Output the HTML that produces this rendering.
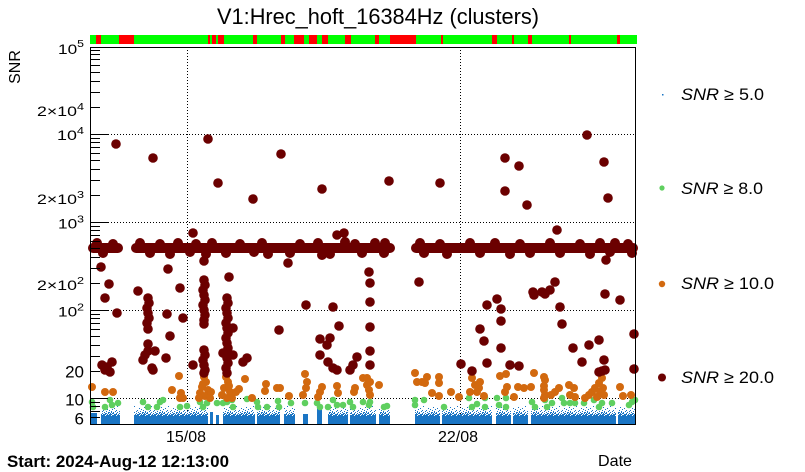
<!DOCTYPE html>
<html><head><meta charset="utf-8"><style>
html,body{margin:0;padding:0;background:#fff;}
svg{display:block;font-family:"Liberation Sans",Arial,Helvetica,sans-serif;}
</style></head><body>
<svg width="805" height="472" viewBox="0 0 805 472" xmlns="http://www.w3.org/2000/svg">
<defs>
<pattern id="bn" patternUnits="userSpaceOnUse" x="0" y="406" width="17" height="10">
<g fill="#1a75c4">
<rect x="0" y="9" width="3" height="1"/><rect x="4" y="9" width="5" height="1"/><rect x="10" y="9" width="4" height="1"/><rect x="15" y="9" width="2" height="1"/>
<rect x="1" y="8" width="3" height="1"/><rect x="5" y="8" width="1" height="1"/><rect x="7" y="8" width="3" height="1"/><rect x="12" y="8" width="3" height="1"/><rect x="16" y="8" width="1" height="1"/>
<rect x="0" y="7" width="1" height="1"/><rect x="3" y="7" width="2" height="1"/><rect x="8" y="7" width="1" height="1"/><rect x="10" y="7" width="2" height="1"/><rect x="14" y="7" width="1" height="1"/><rect x="6" y="7" width="1" height="1"/>
<rect x="2" y="6" width="1" height="1"/><rect x="6" y="6" width="2" height="1"/><rect x="11" y="6" width="1" height="1"/><rect x="15" y="6" width="1" height="1"/><rect x="9" y="6" width="1" height="1"/>
<rect x="4" y="5" width="1" height="1"/><rect x="9" y="5" width="1" height="1"/><rect x="13" y="5" width="1" height="1"/><rect x="0" y="5" width="1" height="1"/>
<rect x="1" y="4" width="1" height="1"/><rect x="7" y="4" width="1" height="1"/><rect x="14" y="4" width="1" height="1"/>
<rect x="5" y="3" width="1" height="1"/><rect x="10" y="3" width="1" height="1"/>
<rect x="3" y="2" width="1" height="1"/><rect x="12" y="2" width="1" height="1"/>
<rect x="8" y="1" width="1" height="1"/><rect x="15" y="0" width="1" height="1"/>
</g>
</pattern>
</defs>

<!-- Title -->
<text x="378" y="24" font-size="22" text-anchor="middle" textLength="322" lengthAdjust="spacingAndGlyphs" fill="#000">V1:Hrec_hoft_16384Hz (clusters)</text>

<!-- status bar -->
<rect x="90" y="35" width="547" height="9" fill="#00ff00"/>
<g fill="#ff0000">
<rect x="96" y="35" width="5" height="9"/><rect x="119" y="35" width="15" height="9"/>
<rect x="208" y="35" width="2" height="9"/><rect x="212" y="35" width="4" height="9"/><rect x="218" y="35" width="6" height="9"/>
<rect x="253" y="35" width="4" height="9"/><rect x="281" y="35" width="4" height="9"/><rect x="294" y="35" width="10" height="9"/>
<rect x="309" y="35" width="8" height="9"/><rect x="322" y="35" width="6" height="9"/><rect x="345" y="35" width="6" height="9"/>
<rect x="375" y="35" width="4" height="9"/><rect x="390" y="35" width="26" height="9"/><rect x="441" y="35" width="2" height="9"/>
<rect x="492" y="35" width="5" height="9"/><rect x="512" y="35" width="2" height="9"/><rect x="528" y="35" width="4" height="9"/>
<rect x="569" y="35" width="2" height="9"/><rect x="617" y="35" width="3" height="9"/>
</g>

<!-- grid -->
<g stroke="#000" stroke-width="1" stroke-dasharray="1,2" fill="none" shape-rendering="crispEdges">
<path d="M108,134.5H635 M108,222.5H635 M108,310.5H635 M108,398.5H635"/>
<path d="M187.5,47V424 M460.5,47V424"/>
</g>

<!-- blue SNR>=5 -->
<g fill="#1a75c4" shape-rendering="crispEdges">
<rect x="90" y="413" width="7" height="11"/>
<rect x="101" y="416" width="19" height="8"/>
<rect x="134" y="416" width="74" height="8"/>
<rect x="210" y="412" width="3" height="12"/>
<rect x="216" y="415" width="3" height="9"/>
<rect x="223" y="416" width="32" height="8"/>
<rect x="257" y="416" width="23" height="8"/>
<rect x="284" y="416" width="11" height="8"/>
<rect x="303" y="414" width="5" height="10"/>
<rect x="317" y="408" width="5" height="16"/>
<rect x="328" y="416" width="20" height="8"/>
<rect x="350" y="416" width="26" height="8"/>
<rect x="379" y="416" width="11" height="8"/>
<rect x="415" y="416" width="25" height="8"/>
<rect x="442" y="416" width="50" height="8"/>
<rect x="496" y="416" width="15" height="8"/>
<rect x="513" y="416" width="15" height="8"/>
<rect x="531" y="416" width="85" height="8"/>
<rect x="618" y="416" width="18" height="8"/>
</g>
<g fill="url(#bn)">
<rect x="101" y="406" width="19" height="10"/>
<rect x="134" y="406" width="74" height="10"/>
<rect x="223" y="406" width="32" height="10"/>
<rect x="257" y="406" width="23" height="10"/>
<rect x="284" y="406" width="11" height="10"/>
<rect x="328" y="406" width="20" height="10"/>
<rect x="350" y="406" width="26" height="10"/>
<rect x="379" y="406" width="11" height="10"/>
<rect x="415" y="406" width="25" height="10"/>
<rect x="442" y="406" width="50" height="10"/>
<rect x="496" y="406" width="15" height="10"/>
<rect x="513" y="406" width="15" height="10"/>
<rect x="531" y="406" width="85" height="10"/>
<rect x="618" y="406" width="18" height="10"/>
</g>

<!-- green SNR>=8 -->
<g fill="#5fcf5f">
<circle cx="92" cy="402" r="3.3"/><circle cx="93" cy="407" r="3.3"/><circle cx="105" cy="407" r="3.3"/><circle cx="110" cy="400" r="3.3"/><circle cx="112" cy="405" r="3.3"/><circle cx="118" cy="403" r="3.3"/>
<circle cx="143" cy="402" r="3.3"/><circle cx="148" cy="407" r="3.3"/><circle cx="157" cy="407" r="3.3"/><circle cx="160" cy="402" r="3.3"/><circle cx="163" cy="400" r="3.3"/>
<circle cx="180" cy="407" r="3.3"/><circle cx="187" cy="406" r="3.3"/><circle cx="200" cy="402" r="3.3"/><circle cx="203" cy="407" r="3.3"/><circle cx="207" cy="403" r="3.3"/>
<circle cx="217" cy="403" r="3.3"/><circle cx="223" cy="403" r="3.3"/><circle cx="227" cy="402" r="3.3"/><circle cx="232" cy="400" r="3.3"/><circle cx="233" cy="407" r="3.3"/>
<circle cx="247" cy="399" r="3.3"/><circle cx="257" cy="402" r="3.3"/><circle cx="258" cy="407" r="3.3"/><circle cx="267" cy="407" r="3.3"/><circle cx="278" cy="401" r="3.3"/><circle cx="279" cy="407" r="3.3"/>
<circle cx="291" cy="403" r="3.3"/><circle cx="305" cy="403" r="3.3"/><circle cx="317" cy="403" r="3.3"/><circle cx="320" cy="407" r="3.3"/><circle cx="328" cy="407" r="3.3"/>
<circle cx="333" cy="400" r="3.3"/><circle cx="337" cy="405" r="3.3"/><circle cx="343" cy="405" r="3.3"/><circle cx="350" cy="402" r="3.3"/><circle cx="353" cy="407" r="3.3"/><circle cx="363" cy="402" r="3.3"/>
<circle cx="369" cy="405" r="3.3"/><circle cx="370" cy="402" r="3.3"/><circle cx="384" cy="407" r="3.3"/><circle cx="387" cy="406" r="3.3"/>
<circle cx="415" cy="400" r="3.3"/><circle cx="415" cy="405" r="3.3"/><circle cx="424" cy="400" r="3.3"/><circle cx="444" cy="407" r="3.3"/>
<circle cx="469" cy="398" r="3.3"/><circle cx="472" cy="407" r="3.3"/><circle cx="477" cy="404" r="3.3"/><circle cx="485" cy="398" r="3.3"/><circle cx="485" cy="407" r="3.3"/>
<circle cx="497" cy="398" r="3.3"/><circle cx="499" cy="405" r="3.3"/><circle cx="506" cy="398" r="3.3"/><circle cx="506" cy="407" r="3.3"/>
<circle cx="532" cy="402" r="3.3"/><circle cx="535" cy="407" r="3.3"/><circle cx="545" cy="400" r="3.3"/><circle cx="547" cy="407" r="3.3"/><circle cx="552" cy="403" r="3.3"/>
<circle cx="562" cy="398" r="3.3"/><circle cx="564" cy="403" r="3.3"/><circle cx="570" cy="403" r="3.3"/><circle cx="575" cy="403" r="3.3"/><circle cx="584" cy="403" r="3.3"/>
<circle cx="594" cy="400" r="3.3"/><circle cx="599" cy="407" r="3.3"/><circle cx="602" cy="403" r="3.3"/><circle cx="612" cy="403" r="3.3"/>
<circle cx="629" cy="405" r="3.3"/><circle cx="632" cy="402" r="3.3"/><circle cx="635" cy="400" r="3.3"/>
</g>

<!-- orange SNR>=10 -->
<g fill="#d2690f">
<circle cx="92" cy="387" r="4"/><circle cx="105" cy="392" r="4"/><circle cx="113" cy="392" r="4"/>
<circle cx="179" cy="376" r="4"/><circle cx="172" cy="390" r="4"/><circle cx="181" cy="393" r="4"/><circle cx="183" cy="398" r="4"/><circle cx="180" cy="398" r="4"/>
<circle cx="239" cy="389" r="4"/><circle cx="245" cy="379" r="4"/><circle cx="252" cy="398" r="4"/><circle cx="266" cy="384" r="4"/><circle cx="265" cy="391" r="4"/>
<circle cx="277" cy="388" r="4"/><circle cx="280" cy="388" r="4"/><circle cx="289" cy="396" r="4"/>
<circle cx="305" cy="374" r="4"/><circle cx="307" cy="382" r="4"/><circle cx="306" cy="388" r="4"/><circle cx="303" cy="395" r="4"/>
<circle cx="320" cy="392" r="4"/><circle cx="322" cy="387" r="4"/><circle cx="318" cy="397" r="4"/><circle cx="337" cy="386" r="4"/><circle cx="338" cy="393" r="4"/>
<circle cx="355" cy="388" r="4"/><circle cx="354" cy="392" r="4"/><circle cx="363" cy="378" r="4"/>
<circle cx="204" cy="377" r="4"/><circle cx="206" cy="382" r="4"/><circle cx="202" cy="387" r="4"/><circle cx="208" cy="390" r="4"/><circle cx="200" cy="393" r="4"/>
<circle cx="205" cy="396" r="4"/><circle cx="211" cy="392" r="4"/><circle cx="199" cy="398" r="4"/><circle cx="210" cy="398" r="4"/><circle cx="203" cy="384" r="4"/>
<circle cx="226" cy="377" r="4"/><circle cx="228" cy="382" r="4"/><circle cx="224" cy="388" r="4"/><circle cx="230" cy="392" r="4"/><circle cx="222" cy="395" r="4"/>
<circle cx="232" cy="398" r="4"/><circle cx="227" cy="398" r="4"/><circle cx="236" cy="392" r="4"/><circle cx="229" cy="386" r="4"/>
<circle cx="367" cy="378" r="4"/><circle cx="370" cy="382" r="4"/><circle cx="369" cy="390" r="4"/><circle cx="370" cy="395" r="4"/><circle cx="367" cy="385" r="4"/><circle cx="379" cy="385" r="4"/>
<circle cx="415" cy="373" r="4"/><circle cx="417" cy="382" r="4"/><circle cx="422" cy="382" r="4"/><circle cx="425" cy="383" r="4"/><circle cx="427" cy="377" r="4"/>
<circle cx="439" cy="377" r="4"/><circle cx="439" cy="383" r="4"/><circle cx="432" cy="393" r="4"/><circle cx="439" cy="396" r="4"/><circle cx="451" cy="392" r="4"/><circle cx="459" cy="397" r="4"/>
<circle cx="472" cy="378" r="4"/><circle cx="475" cy="385" r="4"/><circle cx="479" cy="388" r="4"/><circle cx="480" cy="382" r="4"/><circle cx="470" cy="392" r="4"/><circle cx="477" cy="392" r="4"/><circle cx="484" cy="396" r="4"/>
<circle cx="500" cy="376" r="4"/><circle cx="506" cy="374" r="4"/><circle cx="507" cy="387" r="4"/><circle cx="505" cy="392" r="4"/><circle cx="514" cy="397" r="4"/>
<circle cx="518" cy="387" r="4"/><circle cx="524" cy="388" r="4"/><circle cx="531" cy="387" r="4"/><circle cx="534" cy="373" r="4"/>
<circle cx="544" cy="377" r="4"/><circle cx="545" cy="380" r="4"/><circle cx="544" cy="386" r="4"/><circle cx="544" cy="390" r="4"/><circle cx="545" cy="395" r="4"/><circle cx="544" cy="398" r="4"/>
<circle cx="555" cy="392" r="4"/><circle cx="559" cy="388" r="4"/><circle cx="551" cy="395" r="4"/>
<circle cx="569" cy="385" r="4"/><circle cx="574" cy="388" r="4"/><circle cx="570" cy="395" r="4"/><circle cx="575" cy="397" r="4"/>
<circle cx="585" cy="398" r="4"/><circle cx="589" cy="395" r="4"/><circle cx="592" cy="392" r="4"/><circle cx="595" cy="388" r="4"/>
<circle cx="600" cy="373" r="4"/><circle cx="602" cy="378" r="4"/><circle cx="599" cy="383" r="4"/><circle cx="603" cy="388" r="4"/><circle cx="600" cy="392" r="4"/><circle cx="604" cy="395" r="4"/><circle cx="597" cy="397" r="4"/>
<circle cx="620" cy="387" r="4"/><circle cx="623" cy="396" r="4"/><circle cx="631" cy="395" r="4"/>
</g>

<!-- dark red SNR>=20 -->
<g stroke="#6b0000" stroke-width="10" stroke-linecap="round" fill="none">
<path d="M93,248H118 M136,248H390 M416,248H633"/>
</g>
<g fill="#6b0000">
<!-- columns -->
<circle cx="148" cy="298" r="4.8"/><circle cx="149" cy="303" r="4.8"/><circle cx="147" cy="308" r="4.8"/><circle cx="148" cy="313" r="4.8"/><circle cx="149" cy="318" r="4.8"/><circle cx="147" cy="323" r="4.8"/><circle cx="148" cy="329" r="4.8"/>
<circle cx="204" cy="280" r="4.8"/><circle cx="205" cy="285" r="4.8"/><circle cx="203" cy="290" r="4.8"/><circle cx="204" cy="295" r="4.8"/><circle cx="205" cy="300" r="4.8"/><circle cx="203" cy="305" r="4.8"/><circle cx="204" cy="310" r="4.8"/><circle cx="205" cy="315" r="4.8"/><circle cx="204" cy="320" r="4.8"/><circle cx="204" cy="324" r="4.8"/>
<circle cx="204" cy="350" r="4.8"/><circle cx="205" cy="355" r="4.8"/><circle cx="203" cy="360" r="4.8"/><circle cx="204" cy="365" r="4.8"/><circle cx="205" cy="370" r="4.8"/><circle cx="204" cy="373" r="4.8"/>
<circle cx="227" cy="298" r="4.8"/><circle cx="228" cy="303" r="4.8"/><circle cx="226" cy="308" r="4.8"/><circle cx="227" cy="313" r="4.8"/><circle cx="228" cy="318" r="4.8"/><circle cx="226" cy="323" r="4.8"/><circle cx="227" cy="328" r="4.8"/><circle cx="228" cy="333" r="4.8"/>
<circle cx="226" cy="338" r="4.8"/><circle cx="227" cy="343" r="4.8"/><circle cx="228" cy="348" r="4.8"/><circle cx="226" cy="353" r="4.8"/><circle cx="227" cy="358" r="4.8"/><circle cx="228" cy="363" r="4.8"/><circle cx="226" cy="368" r="4.8"/><circle cx="227" cy="373" r="4.8"/>
<!-- band bumps -->
<circle cx="97" cy="243" r="5"/><circle cx="113" cy="244" r="5"/><circle cx="140" cy="243" r="5"/><circle cx="160" cy="244" r="5"/><circle cx="178" cy="243" r="5"/>
<circle cx="196" cy="244" r="5"/><circle cx="212" cy="243" r="5"/><circle cx="240" cy="244" r="5"/><circle cx="262" cy="243" r="5"/><circle cx="300" cy="244" r="5"/>
<circle cx="318" cy="243" r="5"/><circle cx="345" cy="242" r="5"/><circle cx="355" cy="244" r="5"/><circle cx="375" cy="243" r="5"/><circle cx="385" cy="243" r="5"/>
<circle cx="420" cy="243" r="5"/><circle cx="440" cy="244" r="5"/><circle cx="470" cy="243" r="5"/><circle cx="495" cy="243" r="5"/><circle cx="520" cy="244" r="5"/>
<circle cx="550" cy="243" r="5"/><circle cx="580" cy="244" r="5"/><circle cx="600" cy="243" r="5"/><circle cx="615" cy="243" r="5"/><circle cx="628" cy="244" r="5"/>
<circle cx="103" cy="253" r="5"/><circle cx="150" cy="253" r="5"/><circle cx="170" cy="254" r="5"/><circle cx="190" cy="252" r="5"/><circle cx="206" cy="254" r="5"/>
<circle cx="226" cy="253" r="5"/><circle cx="254" cy="252" r="5"/><circle cx="268" cy="254" r="5"/><circle cx="290" cy="253" r="5"/><circle cx="322" cy="255" r="5"/>
<circle cx="330" cy="254" r="5"/><circle cx="362" cy="253" r="5"/><circle cx="384" cy="253" r="5"/><circle cx="424" cy="253" r="5"/><circle cx="447" cy="254" r="5"/>
<circle cx="480" cy="253" r="5"/><circle cx="510" cy="254" r="5"/><circle cx="530" cy="253" r="5"/><circle cx="560" cy="253" r="5"/><circle cx="590" cy="254" r="5"/>
<circle cx="610" cy="252" r="5"/><circle cx="632" cy="253" r="5"/>
<!-- upper outliers -->
<circle cx="116" cy="144" r="4.8"/><circle cx="153" cy="158" r="4.8"/><circle cx="208" cy="139" r="4.8"/><circle cx="218" cy="183" r="4.8"/>
<circle cx="253" cy="199" r="4.8"/><circle cx="281" cy="154" r="4.8"/><circle cx="322" cy="189" r="4.8"/><circle cx="389" cy="181" r="4.8"/>
<circle cx="440" cy="183" r="4.8"/><circle cx="505" cy="158" r="4.8"/><circle cx="519" cy="166" r="4.8"/><circle cx="505" cy="191" r="4.8"/>
<circle cx="527" cy="205" r="4.8"/><circle cx="587" cy="135" r="4.8"/><circle cx="604" cy="162" r="4.8"/><circle cx="608" cy="198" r="4.8"/>
<circle cx="193" cy="233" r="4.8"/><circle cx="337" cy="235" r="4.8"/><circle cx="344" cy="233" r="4.8"/><circle cx="557" cy="230" r="4.8"/>
<!-- lower left -->
<circle cx="101" cy="267" r="4.8"/><circle cx="109" cy="284" r="4.8"/><circle cx="105" cy="298" r="4.8"/><circle cx="117" cy="313" r="4.8"/>
<circle cx="138" cy="291" r="4.8"/><circle cx="168" cy="269" r="4.8"/><circle cx="180" cy="288" r="4.8"/><circle cx="167" cy="314" r="4.8"/>
<circle cx="183" cy="318" r="4.8"/><circle cx="170" cy="336" r="4.8"/><circle cx="166" cy="358" r="4.8"/>
<circle cx="102" cy="365" r="4.8"/><circle cx="107" cy="367" r="4.8"/><circle cx="112" cy="362" r="4.8"/><circle cx="110" cy="372" r="4.8"/><circle cx="105" cy="370" r="4.8"/>
<circle cx="148" cy="344" r="4.8"/><circle cx="148" cy="351" r="4.8"/><circle cx="143" cy="360" r="4.8"/><circle cx="145" cy="355" r="4.8"/><circle cx="155" cy="351" r="4.8"/>
<circle cx="152" cy="368" r="4.8"/><circle cx="153" cy="370" r="4.8"/>
<circle cx="193" cy="365" r="4.8"/><circle cx="204" cy="261" r="4.8"/><circle cx="229" cy="277" r="4.8"/><circle cx="233" cy="328" r="4.8"/>
<circle cx="223" cy="353" r="4.8"/><circle cx="233" cy="355" r="4.8"/><circle cx="247" cy="358" r="4.8"/><circle cx="243" cy="362" r="4.8"/>
<circle cx="288" cy="263" r="4.8"/><circle cx="279" cy="330" r="4.8"/><circle cx="306" cy="305" r="4.8"/>
<circle cx="320" cy="339" r="4.8"/><circle cx="330" cy="338" r="4.8"/><circle cx="327" cy="345" r="4.8"/><circle cx="333" cy="307" r="4.8"/><circle cx="339" cy="326" r="4.8"/>
<circle cx="320" cy="355" r="4.8"/><circle cx="328" cy="362" r="4.8"/><circle cx="333" cy="368" r="4.8"/><circle cx="337" cy="370" r="4.8"/>
<circle cx="350" cy="370" r="4.8"/><circle cx="353" cy="365" r="4.8"/><circle cx="357" cy="357" r="4.8"/>
<!-- lower right -->
<circle cx="369" cy="272" r="4.8"/><circle cx="370" cy="283" r="4.8"/><circle cx="370" cy="302" r="4.8"/><circle cx="370" cy="327" r="4.8"/>
<circle cx="370" cy="351" r="4.8"/><circle cx="370" cy="365" r="4.8"/><circle cx="419" cy="282" r="4.8"/>
<circle cx="461" cy="364" r="4.8"/><circle cx="472" cy="371" r="4.8"/><circle cx="480" cy="329" r="4.8"/><circle cx="484" cy="341" r="4.8"/><circle cx="487" cy="363" r="4.8"/>
<circle cx="487" cy="305" r="4.8"/><circle cx="497" cy="299" r="4.8"/><circle cx="501" cy="309" r="4.8"/><circle cx="501" cy="321" r="4.8"/><circle cx="501" cy="348" r="4.8"/>
<circle cx="510" cy="365" r="4.8"/><circle cx="519" cy="366" r="4.8"/>
<circle cx="534" cy="295" r="4.8"/><circle cx="533" cy="292" r="4.8"/><circle cx="542" cy="292" r="4.8"/><circle cx="545" cy="294" r="4.8"/><circle cx="550" cy="290" r="4.8"/><circle cx="555" cy="282" r="4.8"/>
<circle cx="560" cy="307" r="4.8"/><circle cx="562" cy="324" r="4.8"/><circle cx="573" cy="348" r="4.8"/><circle cx="582" cy="362" r="4.8"/>
<circle cx="589" cy="345" r="4.8"/><circle cx="599" cy="340" r="4.8"/><circle cx="604" cy="360" r="4.8"/>
<circle cx="599" cy="372" r="4.8"/><circle cx="602" cy="371" r="4.8"/><circle cx="605" cy="370" r="4.8"/>
<circle cx="606" cy="260" r="4.8"/><circle cx="605" cy="294" r="4.8"/><circle cx="620" cy="300" r="4.8"/><circle cx="634" cy="334" r="4.8"/><circle cx="634" cy="369" r="4.8"/>
</g>

<!-- frame -->
<g stroke="#000" stroke-width="1" fill="none" shape-rendering="crispEdges">
<rect x="90.5" y="47.5" width="545" height="377"/>
<path d="M90,134.5H108 M90,222.5H108 M90,310.5H108 M90,398.5H108"/>
<path d="M90,50.5H100 M90,54.5H100 M90,59.5H100 M90,65.5H100 M90,72.5H100 M90,81.5H100 M90,92.5H100 M90,107.5H100
M90,138.5H100 M90,142.5H100 M90,147.5H100 M90,153.5H100 M90,160.5H100 M90,169.5H100 M90,180.5H100 M90,195.5H100
M90,226.5H100 M90,230.5H100 M90,235.5H100 M90,241.5H100 M90,248.5H100 M90,257.5H100 M90,268.5H100 M90,283.5H100
M90,314.5H100 M90,318.5H100 M90,323.5H100 M90,329.5H100 M90,336.5H100 M90,345.5H100 M90,356.5H100 M90,371.5H100
M90,402.5H100 M90,406.5H100 M90,411.5H100 M90,417.5H100"/>
</g>

<!-- y labels -->
<g fill="#000" text-anchor="end">
<text x="84" y="54" font-size="14" textLength="26" lengthAdjust="spacingAndGlyphs">10<tspan dy="-7" font-size="10">5</tspan></text>
<text x="84" y="116" font-size="14" textLength="47" lengthAdjust="spacingAndGlyphs">2×10<tspan dy="-6" font-size="10">4</tspan></text>
<text x="84" y="140" font-size="14" textLength="27" lengthAdjust="spacingAndGlyphs">10<tspan dy="-6" font-size="10">4</tspan></text>
<text x="84" y="204" font-size="14" textLength="47" lengthAdjust="spacingAndGlyphs">2×10<tspan dy="-6" font-size="10">3</tspan></text>
<text x="84" y="228.5" font-size="14" textLength="26" lengthAdjust="spacingAndGlyphs">10<tspan dy="-6" font-size="10">3</tspan></text>
<text x="84" y="290" font-size="14" textLength="47" lengthAdjust="spacingAndGlyphs">2×10<tspan dy="-6" font-size="10">2</tspan></text>
<text x="84" y="316.5" font-size="14" textLength="26" lengthAdjust="spacingAndGlyphs">10<tspan dy="-6" font-size="10">2</tspan></text>
<text x="84" y="377.5" font-size="17">20</text>
<text x="84" y="405.5" font-size="17">10</text>
<text x="84" y="424.5" font-size="17">6</text>
</g>
<text transform="translate(20,67) rotate(-90)" font-size="16" text-anchor="middle" fill="#000">SNR</text>

<!-- x labels -->
<text x="186" y="442" font-size="16" text-anchor="middle" fill="#000">15/08</text>
<text x="458" y="442" font-size="16" text-anchor="middle" fill="#000">22/08</text>
<text x="598" y="466" font-size="16" fill="#000" textLength="34" lengthAdjust="spacingAndGlyphs">Date</text>
<text x="7" y="467" font-size="17" font-weight="bold" fill="#000" textLength="222" lengthAdjust="spacingAndGlyphs">Start: 2024-Aug-12 12:13:00</text>

<!-- legend -->
<rect x="662" y="94" width="1.5" height="1.5" fill="#1a75c4"/>
<circle cx="662" cy="188" r="2.6" fill="#5fcf5f"/>
<circle cx="662" cy="284" r="3.2" fill="#d2690f"/>
<circle cx="662" cy="377.5" r="4" fill="#6b0000"/>
<g fill="#000" font-size="17">
<text x="681" y="100" textLength="83" lengthAdjust="spacingAndGlyphs"><tspan font-style="italic">SNR</tspan> ≥ 5.0</text>
<text x="681" y="194" textLength="82" lengthAdjust="spacingAndGlyphs"><tspan font-style="italic">SNR</tspan> ≥ 8.0</text>
<text x="681" y="289" textLength="93" lengthAdjust="spacingAndGlyphs"><tspan font-style="italic">SNR</tspan> ≥ 10.0</text>
<text x="681" y="383" textLength="93" lengthAdjust="spacingAndGlyphs"><tspan font-style="italic">SNR</tspan> ≥ 20.0</text>
</g>
</svg>
</body></html>
